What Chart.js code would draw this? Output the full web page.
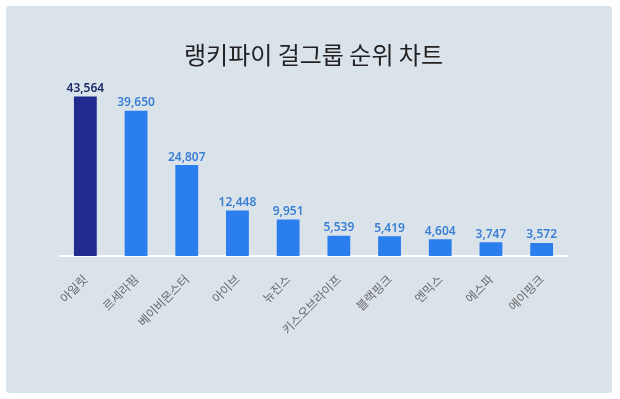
<!DOCTYPE html>
<html><head><meta charset="utf-8">
<script src="https://cdn.jsdelivr.net/npm/chart.js@4"></script>
<style>
html,body{margin:0;padding:0;background:#fff;width:620px;height:399px;overflow:hidden}
#panel{position:absolute;left:6px;top:6px;width:606px;height:387px;background:#dbe3ea;border-radius:3px}
#wrap{position:absolute;left:0;top:0;width:620px;height:399px}
</style></head><body>
<div id="panel"></div>
<div id="wrap"><canvas id="c" width="620" height="399"></canvas></div>
<script>
const categories = ['아일릿','르세라핌','베이비몬스터','아이브','뉴진스','키스오브라이프','블랙핑크','엔믹스','에스파','에이핑크'];
const votes = [43564, 39650, 24807, 12448, 9951, 5539, 5419, 4604, 3747, 3572];
const titleText = '랭키파이 걸그룹 순위 차트';
const barColors = votes.map((v,i)=> i===0 ? '#1f2b8e' : '#2a7eee');
const labelColors = votes.map((v,i)=> i===0 ? '#1e2a6a' : '#3a7fd6');
const FONT = '"Noto Sans CJK KR","Noto Sans",sans-serif';

const valueLabels = {
  id:'valueLabels',
  afterDatasetsDraw(chart){
    const ctx = chart.ctx;
    const meta = chart.getDatasetMeta(0);
    ctx.save();
    ctx.font = '600 12px "Noto Sans","Noto Sans CJK KR",sans-serif';
    ctx.textAlign='center';
    ctx.textBaseline='bottom';
    meta.data.forEach((el,i)=>{
      ctx.fillStyle = labelColors[i];
      ctx.fillText(votes[i].toLocaleString('en-US'), el.x, el.y-2);
    });
    ctx.restore();
  }
};

new Chart(document.getElementById('c'), {
  type:'bar',
  data:{labels:categories, datasets:[{data:votes, backgroundColor:barColors, borderWidth:0, barPercentage:0.45, categoryPercentage:1.0}]},
  options:{
    responsive:false, animation:false,
    layout:{padding:{left:60, right:53, top:0, bottom:0}},
    plugins:{
      legend:{display:false}, tooltip:{enabled:false},
      title:{display:true, text:titleText, color:'#222', font:{family:FONT, size:24, weight:'normal'}, padding:{top:40, bottom:4}}
    },
    scales:{
      y:{display:false, min:0, max:50000},
      x:{
        afterFit(s){ s.height = 143; },
        grid:{display:true, color:'rgba(0,0,0,0)', drawTicks:false},
        border:{display:true, color:'#ffffff', width:2},
        ticks:{color:'#6a6a6a', font:{family:FONT, size:12}, maxRotation:45, minRotation:45, padding:16, autoSkip:false}
      }
    }
  },
  plugins:[valueLabels]
});
</script>
</body></html>
